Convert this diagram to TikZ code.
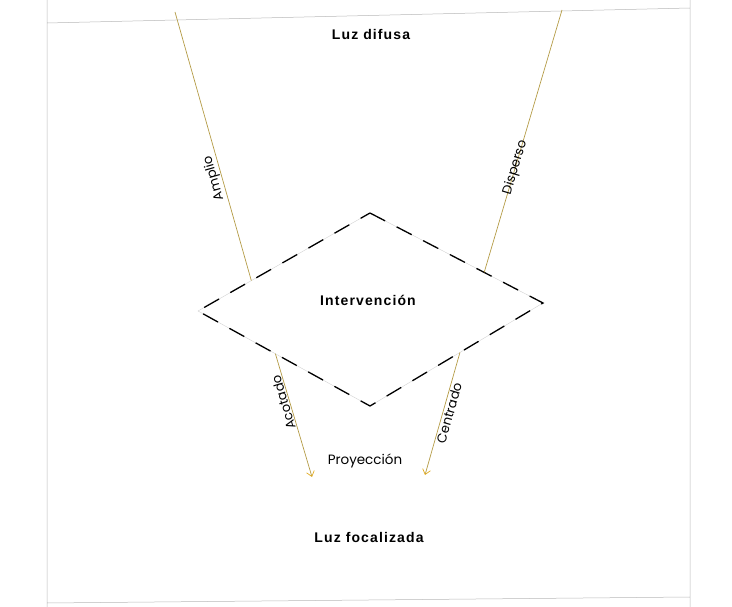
\documentclass[tikz,border=0pt]{standalone}
\usepackage{fontspec}
\setmainfont{Liberation Sans}
\newfontfamily\redonda{Poppins}
\usetikzlibrary{arrows.meta,calc}
\definecolor{rayo}{RGB}{180,155,70}
\definecolor{punta}{RGB}{225,170,30}
\tikzset{
  >={Straight Barb[length=5pt,width=8pt,color=punta]},
}

\begin{document}
\begin{tikzpicture}[
  x=1pt,y=-1pt,
  marco/.style={draw=gray!55, line width=0.5pt},
  rayo/.style={draw=rayo, line width=0.7pt},
  titulo/.style={font=\bfseries\fontsize{14}{16}\selectfont\addfontfeature{LetterSpace=8}},
  etiq/.style={font=\redonda\fontsize{13}{15}\selectfont, inner sep=1pt},
  guion/.style={line width=1.3pt, dash pattern=on 17pt off 13pt}
]
\useasboundingbox (0,0) rectangle (732,607);

\coordinate (f1) at (47,0);
\coordinate (f2) at (47,607);
\coordinate (f3) at (690,0);
\coordinate (f4) at (690,607);
\coordinate (t1) at (47,23);
\coordinate (t2) at (690,8);
\coordinate (b1) at (47,603);
\coordinate (b2) at (690,597);
\draw[marco] (f1) -- (f2) (f3) -- (f4) (t1) -- (t2) (b1) -- (b2);

\coordinate (rn) at (370,213);
\coordinate (re) at (543,303);
\coordinate (rs) at (370,406);
\coordinate (rw) at (198,311);
\draw[gray!35, line width=0.4pt] (rn) -- (re) -- (rs) -- (rw) -- cycle;
\draw[guion] (rn) -- (re) -- (rs) -- (rw) -- cycle;

\node[titulo] (difusa) at (371,34) {Luz difusa};
\node[titulo] (interv) at (368,300) {Intervención};
\node[etiq, font=\redonda\fontsize{13.5}{15}\selectfont] (proy) at (365,461) {Proyección};
\node[titulo] (focal) at (369,537) {Luz focalizada};

\coordinate (amptop) at (175,12);
\coordinate (ampbot) at ($(rw)!0.31!(rn)$);
\coordinate (distop) at (562,10);
\coordinate (disbot) at ($(rn)!0.66!(re)$);
\coordinate (acotop) at ($(rw)!0.45!(rs)$);
\coordinate (acoend) at (312,477);
\coordinate (centop) at ($(re)!0.48!(rs)$);
\coordinate (cenend) at (425,475);

\draw[rayo] (amptop) -- node[etiq, pos=.61, rotate=106, anchor=south] {Amplio} (ampbot);
\draw[rayo] (distop) -- node[etiq, pos=.60, rotate=73.4] {Disperso} (disbot);
\draw[rayo, ->] (acotop) -- node[etiq, pos=.38, rotate=106.7, anchor=south] {Acotado} (acoend);
\draw[rayo, ->] (centop) -- node[etiq, pos=.48, rotate=74, anchor=north] {Centrado} (cenend);

\end{tikzpicture}
\end{document}
